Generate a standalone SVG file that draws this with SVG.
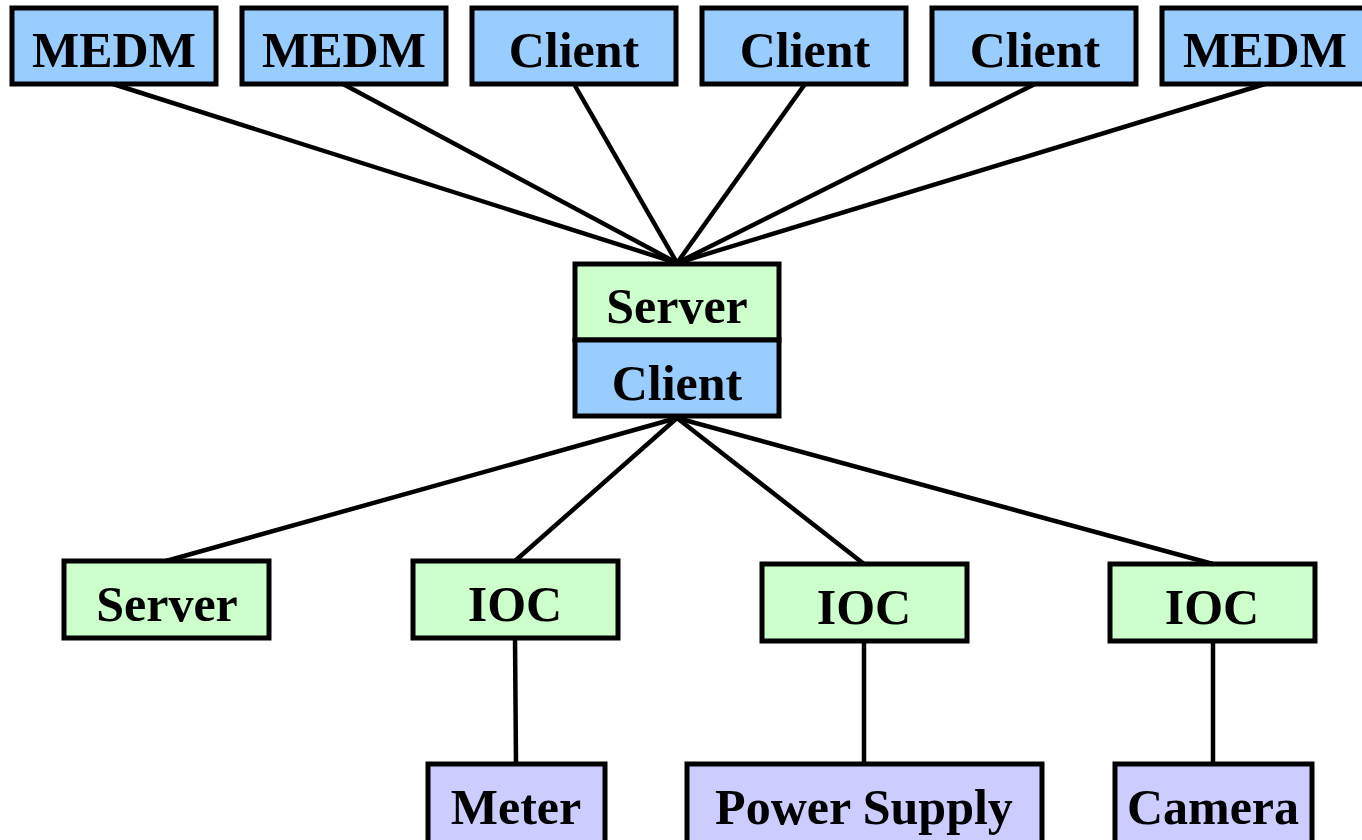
<svg xmlns="http://www.w3.org/2000/svg" width="1362" height="840" viewBox="0 0 1362 840">
<style>
.box{stroke:#000;stroke-width:5}
.b{fill:#99ccff}.g{fill:#ccffcc}.p{fill:#ccccff}
text{font-family:"Liberation Serif","Times New Roman",serif;font-weight:bold;font-size:50px;text-anchor:middle;fill:#000}
.c line{stroke:#000;stroke-width:4.5}
</style>
<rect width="1362" height="840" fill="#fff"/>
<g class="c" id="connectors">
<line x1="113" y1="84" x2="677" y2="263"/>
<line x1="343" y1="84" x2="677" y2="263"/>
<line x1="574" y1="84" x2="677" y2="263"/>
<line x1="805" y1="84" x2="677" y2="263"/>
<line x1="1035" y1="84" x2="677" y2="263"/>
<line x1="1265" y1="84" x2="677" y2="263"/>
<line x1="677" y1="418" x2="166" y2="561"/>
<line x1="677" y1="418" x2="515" y2="561"/>
<line x1="677" y1="418" x2="864" y2="564"/>
<line x1="677" y1="418" x2="1213" y2="564"/>
<line x1="515" y1="638" x2="516" y2="764"/>
<line x1="864" y1="641" x2="864" y2="764"/>
<line x1="1213" y1="641" x2="1213" y2="764"/>
</g>
<g id="medm1"><rect class="box b" x="12" y="8" width="204" height="76"/><text x="114" y="67">MEDM</text></g>
<g id="medm2"><rect class="box b" x="242" y="8" width="204" height="76"/><text x="344" y="67">MEDM</text></g>
<g id="client1"><rect class="box b" x="472" y="8" width="204" height="76"/><text x="574" y="67">Client</text></g>
<g id="client2"><rect class="box b" x="702" y="8" width="204" height="76"/><text x="805" y="67">Client</text></g>
<g id="client3"><rect class="box b" x="932" y="8" width="204" height="76"/><text x="1035" y="67">Client</text></g>
<g id="medm3"><rect class="box b" x="1162" y="8" width="204" height="76"/><text x="1265" y="67">MEDM</text></g>
<g id="gateway-server"><rect class="box g" x="575" y="264" width="204" height="76"/><text x="677" y="323">Server</text></g>
<g id="gateway-client"><rect class="box b" x="575" y="340" width="204" height="76"/><text x="677" y="400">Client</text></g>
<g id="server"><rect class="box g" x="64" y="561" width="205" height="77"/><text x="167" y="621">Server</text></g>
<g id="ioc1"><rect class="box g" x="413" y="561" width="205" height="77"/><text x="515" y="621">IOC</text></g>
<g id="ioc2"><rect class="box g" x="762" y="564" width="205" height="77"/><text x="864" y="624">IOC</text></g>
<g id="ioc3"><rect class="box g" x="1110" y="564" width="205" height="77"/><text x="1212" y="624">IOC</text></g>
<g id="meter"><rect class="box p" x="428" y="764" width="177" height="80"/><text x="516" y="824">Meter</text></g>
<g id="power-supply"><rect class="box p" x="687" y="764" width="355" height="80"/><text x="864" y="824">Power Supply</text></g>
<g id="camera"><rect class="box p" x="1115" y="764" width="197" height="80"/><text x="1213" y="824">Camera</text></g>
</svg>
